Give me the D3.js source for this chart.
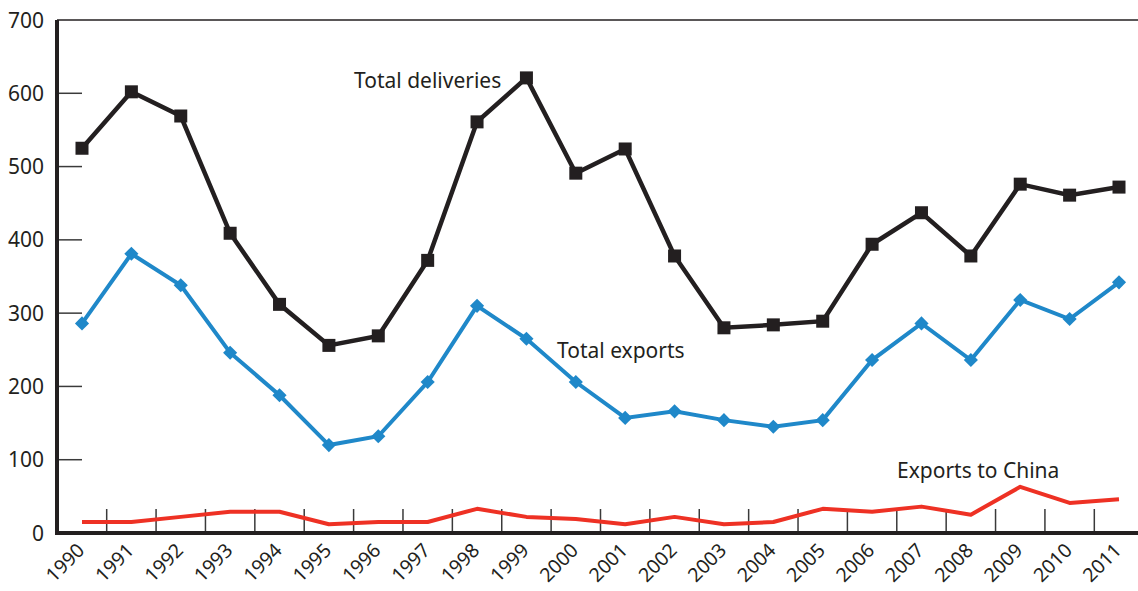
<!DOCTYPE html>
<html><head><meta charset="UTF-8">
<script src="https://d3js.org/d3.v7.min.js"></script>
<style>
  body { margin: 0; background: #fff; }
  svg text { font-family: "Noto Sans", sans-serif; fill: #231f20; }
</style>
</head>
<body>
<div id="body"></div>
<script type="text/javascript">

var w = 1138,
    h = 591;

var years = d3.range(1990, 2012);

// total deliveries, total exports, exports to China
var deliveries = [525, 602, 569, 409, 312, 256, 269, 372, 561, 621, 491, 524,
                  378, 280, 284, 289, 394, 437, 378, 476, 461, 472];
var exports_total = [286, 381, 338, 246, 188, 120, 132, 206, 310, 265, 206, 157,
                     166, 154, 145, 154, 236, 286, 236, 318, 292, 342];
var exports_china = [15, 15, 22, 29, 29, 12, 15, 15, 33, 22, 19, 12,
                     22, 12, 15, 33, 29, 36, 25, 63, 41, 46];

var y_ticks = [0, 100, 200, 300, 400, 500, 600, 700];

var x = d3.scaleLinear().domain([1990, 2011]).range([82, 1119]);
var y = d3.scaleLinear().domain([0, 700]).range([533, 20]);

var svg = d3.select("#body").append("svg")
    .attr("width", w)
    .attr("height", h);

// inner tick marks on the x axis sit between the years
svg.selectAll()
    .data(d3.range(1990.5, 2011, 1))
    .enter().append("line")
    .attr("x1", function(d) { return x(d); })
    .attr("x2", function(d) { return x(d); })
    .attr("y1", y(0))
    .attr("y2", y(0) - 24)
    .style("stroke", "#3a3a3a")
    .style("stroke-width", 1.5);

// y ticks
svg.selectAll()
    .data(y_ticks.filter(function(d) { return d > 0 && d < 700; }))
    .enter().append("line")
    .attr("x1", 57)
    .attr("x2", 82)
    .attr("y1", function(d) { return y(d); })
    .attr("y2", function(d) { return y(d); })
    .style("stroke", "#3a3a3a")
    .style("stroke-width", 1.5);

svg.selectAll()
    .data(y_ticks)
    .enter().append("text")
    .attr("x", 44)
    .attr("y", function(d) { return y(d); })
    .attr("dy", "0.36em")
    .style("text-anchor", "end")
    .style("font-size", "21px")
    .text(function(d) { return d; });

// frame
svg.append("line")
    .attr("x1", 57).attr("x2", w)
    .attr("y1", y(700)).attr("y2", y(700))
    .style("stroke", "#231f20").style("stroke-width", 1.5);
svg.append("line")
    .attr("x1", 57).attr("x2", 57)
    .attr("y1", y(700)).attr("y2", y(0) + 2)
    .style("stroke", "#231f20").style("stroke-width", 4);
svg.append("line")
    .attr("x1", 55).attr("x2", w)
    .attr("y1", y(0)).attr("y2", y(0))
    .style("stroke", "#231f20").style("stroke-width", 4);

// x labels
svg.selectAll()
    .data(years)
    .enter().append("text")
    .attr("transform", function(d) { return "translate(" + (x(d) - 6) + "," + 542 + ") rotate(-45)"; })
    .attr("dy", "0.7em")
    .style("text-anchor", "end")
    .style("font-size", "19.5px")
    .text(function(d) { return d; });

var line = d3.line()
    .x(function(d, i) { return x(years[i]); })
    .y(function(d) { return y(d); });

svg.append("path")
    .datum(exports_china)
    .attr("d", line)
    .style("fill", "none")
    .style("stroke", "#ee3124")
    .style("stroke-width", 4)
    .style("stroke-linejoin", "round");

svg.append("path")
    .datum(exports_total)
    .attr("d", line)
    .style("fill", "none")
    .style("stroke", "#1f88c9")
    .style("stroke-width", 4);

svg.append("path")
    .datum(deliveries)
    .attr("d", line)
    .style("fill", "none")
    .style("stroke", "#231f20")
    .style("stroke-width", 4.5);

var sq = 13, dm = 10;
svg.selectAll()
    .data(deliveries)
    .enter().append("rect")
    .attr("x", function(d, i) { return x(years[i]) - sq / 2; })
    .attr("y", function(d) { return y(d) - sq / 2; })
    .attr("width", sq)
    .attr("height", sq)
    .style("fill", "#231f20");

svg.selectAll()
    .data(exports_total)
    .enter().append("rect")
    .attr("x", -dm / 2)
    .attr("y", -dm / 2)
    .attr("width", dm)
    .attr("height", dm)
    .attr("transform", function(d, i) { return "translate(" + x(years[i]) + "," + y(d) + ") rotate(45)"; })
    .style("fill", "#1f88c9");

// series labels
var labels = [
    {text: "Total deliveries", x: 354, y: 88},
    {text: "Total exports", x: 557, y: 358},
    {text: "Exports to China", x: 897, y: 478}
];
svg.selectAll()
    .data(labels)
    .enter().append("text")
    .attr("x", function(d) { return d.x; })
    .attr("y", function(d) { return d.y; })
    .style("font-size", "21px")
    .text(function(d) { return d.text; });

</script>
</body></html>
